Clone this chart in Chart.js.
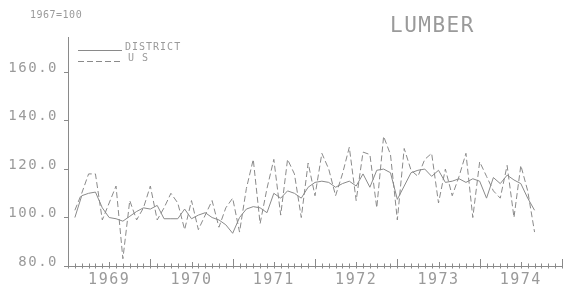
<!DOCTYPE html>
<html>
<head>
<meta charset="utf-8">
<script src="https://cdn.jsdelivr.net/npm/chart.js@4/dist/chart.umd.min.js"></script>
<style>
  html, body { margin: 0; padding: 0; background: #fff; }
  canvas { display: block; }
</style>
</head>
<body>
<canvas id="lumberChart" width="567" height="290"></canvas>
<script>
// years shown on the x axis (label sits in the middle of each year)
const years = ['1969', '1970', '1971', '1972', '1973', '1974'];
// y axis tick values
const yTicks = [80, 100, 120, 140, 160];

// index, 1967=100, monthly from Jan 1969 to Jan 1975 (null = no data)
const district = [
  null, 100, 109, 110, 110.5, 104, 100, 99.5, 98.5, 100.5, 102.5, 104,
  103.5, 105, 99.5, 99.5, 99.5, 103.5, 99.5, 101, 102, 100, 99, 97,
  93.5, 100, 103.5, 104.5, 104, 102, 110, 108, 111, 110, 108, 112.5,
  114.5, 115, 114.5, 112.5, 114, 115, 113, 118, 112.5, 119.5, 120, 118.5,
  107.5, 113, 118.5, 119.5, 120, 117, 119.5, 114.5, 115, 116, 114.5, 116,
  115, 108, 116.5, 114, 117.5, 115.5, 114, 108, 103, null, null, null,
  null
];
const us = [
  null, 103, 110, 118, 118, 99, 106, 113, 83, 107, 99, 104,
  113, 99, 104, 110, 106, 95, 107, 95, 101, 107, 96, 104,
  108, 94, 112, 124, 97.5, 112, 124, 101, 124, 118, 100, 122.5,
  109, 126.5, 120, 109, 118, 129, 107, 127, 126, 104, 133.5, 126,
  99, 128.5, 119.5, 117, 124, 126.5, 106, 120, 109, 117, 126.5, 100,
  123, 117, 111, 108, 121.5, 100, 121.5, 111, 94, null, null, null,
  null
];

// one category per month, plus the closing Jan 1975 point
const months = [];
years.forEach(y => { for (let m = 1; m <= 12; m++) months.push(y + '-' + String(m).padStart(2, '0')); });
months.push('1975-01');

const ink = '#8a8a8a';
const textInk = '#9a9a9a';
const mono = "'DejaVu Sans Mono', monospace";

// cross-shaped tick marks along the x axis: month, mid-year, year
const tickMarks = {
  id: 'tickMarks',
  afterDraw(chart) {
    const x = chart.scales.x, ctx = chart.ctx, y0 = chart.chartArea.bottom;
    ctx.save();
    ctx.strokeStyle = ink;
    ctx.lineWidth = 1;
    months.forEach((m, i) => {
      const px = Math.round(x.getPixelForValue(i)) + 0.5;
      const up = i % 12 === 0 ? 7 : (i % 12 === 6 ? 4 : 2.5);
      ctx.beginPath();
      ctx.moveTo(px, y0 - up);
      ctx.lineTo(px, y0 + 2.5);
      ctx.stroke();
    });
    ctx.restore();
  }
};

// title, base note and the little legend in the top-left corner
const labels = {
  id: 'labels',
  beforeDraw(chart) {
    chart.ctx.letterSpacing = '1.5px';
  },
  afterDraw(chart) {
    const ctx = chart.ctx, a = chart.chartArea;
    ctx.save();
    ctx.fillStyle = textInk;
    ctx.strokeStyle = ink;
    ctx.textBaseline = 'middle';

    ctx.letterSpacing = '0.5px';
    ctx.font = '10px ' + mono;
    ctx.fillText('1967=100', 30, 15);

    ctx.letterSpacing = '1.5px';
    ctx.font = '21px ' + mono;
    ctx.fillText('LUMBER', 390, 27);

    ctx.letterSpacing = '1px';
    ctx.font = '10px ' + mono;
    chart.data.datasets.forEach((ds, i) => {
      const y = a.top + 13.5 + i * 11;
      ctx.setLineDash(ds.borderDash || []);
      ctx.beginPath();
      ctx.moveTo(a.left + 10, y);
      ctx.lineTo(a.left + 54, y);
      ctx.stroke();
      ctx.fillText(ds.label, a.left + (i ? 60 : 57), y - 3);
    });
    ctx.restore();
  }
};

new Chart(document.getElementById('lumberChart'), {
  type: 'line',
  data: {
    labels: months,
    datasets: [
      {
        label: 'DISTRICT',
        data: district,
        borderColor: ink,
        borderWidth: 1,
        pointRadius: 0,
        tension: 0
      },
      {
        label: 'U S',
        data: us,
        borderColor: ink,
        borderWidth: 1,
        borderDash: [6, 3],
        pointRadius: 0,
        tension: 0
      }
    ]
  },
  options: {
    responsive: false,
    animation: false,
    layout: { padding: { top: 37, right: 5, left: 0, bottom: 0 } },
    plugins: {
      legend: { display: false },
      tooltip: { enabled: false }
    },
    scales: {
      x: {
        offset: false,
        afterFit(scale) { scale.height = 24; },
        grid: { display: false, drawTicks: false },
        border: { display: true, color: ink, width: 1 },
        ticks: {
          autoSkip: false,
          maxRotation: 0,
          padding: 5,
          color: textInk,
          font: { family: mono, size: 15 },
          callback: (v, i) => (i % 12 === 6 ? years[Math.floor(i / 12)] : '')
        }
      },
      y: {
        min: 80,
        max: 174.5,
        afterFit(scale) { scale.width = 68; },
        afterBuildTicks(scale) { scale.ticks = yTicks.map(v => ({ value: v })); },
        grid: { drawOnChartArea: false, tickLength: 4, color: ink },
        border: { display: true, color: ink, width: 1 },
        ticks: {
          padding: 6,
          labelOffset: -4,
          color: textInk,
          font: { family: mono, size: 14 },
          callback: v => v.toFixed(1)
        }
      }
    }
  },
  plugins: [tickMarks, labels]
});
</script>
</body>
</html>
